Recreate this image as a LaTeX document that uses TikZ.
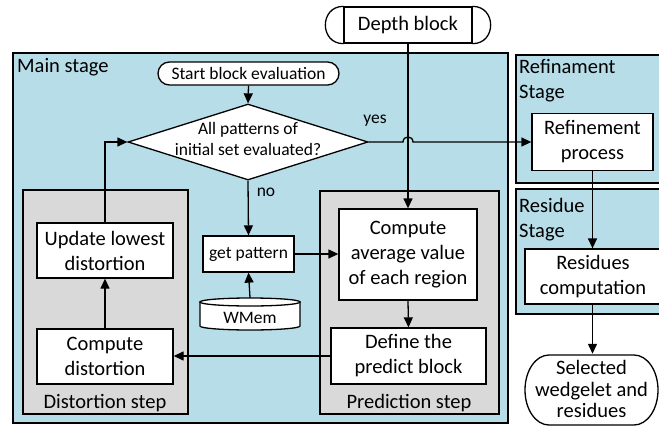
\documentclass[tikz,border=0pt]{standalone}
\usepackage{fontspec}
\setmainfont{Carlito}
\usetikzlibrary{arrows.meta,shapes.geometric}
\definecolor{stageblue}{RGB}{183,221,232}
\definecolor{stepgray}{RGB}{217,217,217}
\tikzset{
  bigtxt/.style={font=\fontsize{20.5}{25}\selectfont},
  smalltxt/.style={font=\fontsize{17.5}{21.5}\selectfont},
  stagebox/.style={draw, line width=1.5pt, fill=stageblue, inner sep=0pt},
  stepbox/.style={draw, line width=1.3pt, fill=stepgray, inner sep=0pt},
  procbox/.style={draw, line width=1.3pt, fill=white, inner sep=0pt, align=center, bigtxt},
  link/.style={line width=1.3pt, -{Triangle[length=10pt,width=9pt]}},
  plain/.style={line width=1.3pt},
  whiteshape/.style={line width=1.3pt, draw=black, fill=white},
}
\begin{document}
\begin{tikzpicture}[x=1pt,y=-1pt]
\useasboundingbox (0,0) rectangle (659,426);

% stage backgrounds
\node[stagebox, minimum width=495, minimum height=370] (main) at (260.5,238) {};
\node[stagebox, minimum width=150, minimum height=128] (refstage) at (591,119) {};
\node[stagebox, minimum width=150, minimum height=125] (resstage) at (591,251.5) {};
\node[bigtxt, anchor=west, inner sep=0pt] (mainlbl) at (17,67) {Main stage};
\node[bigtxt, anchor=north west, inner sep=0pt, align=left] (reflbl) at (519,59) {Refinament\\Stage};
\node[bigtxt, anchor=north west, inner sep=0pt, align=left] (reslbl) at (519,198) {Residue\\Stage};

% step groups
\node[stepbox, minimum width=165, minimum height=224] (diststep) at (105.5,302) {};
\node[stepbox, minimum width=179, minimum height=223] (predstep) at (409.5,302.5) {};
\node[bigtxt, inner sep=0pt] (distlbl) at (105,403) {Distortion step};
\node[bigtxt, inner sep=0pt] (predlbl) at (409,403) {Prediction step};

% terminals
\node[bigtxt, draw, plain, fill=white, minimum width=128, minimum height=36, inner sep=0pt] (depth) at (408,25) {Depth block};
\path[whiteshape] (depth.north west) .. controls +(-24,0) and +(-24,0) .. (depth.south west);
\path[whiteshape] (depth.north east) .. controls +(24,0) and +(24,0) .. (depth.south east);

\node[smalltxt, draw, plain, fill=white, rounded corners=11.5pt, minimum width=181, minimum height=23, inner sep=0pt] (start) at (248.5,73.5) {Start block evaluation};

% decision
\node[diamond, draw, plain, fill=white, minimum width=240, minimum height=76, inner sep=0pt] (dec) at (248,142) {};
\node[smalltxt, align=center, inner sep=0pt] (dectxt) at (248,139) {All patterns of\\initial set evaluated?};

% process boxes
\node[procbox, minimum width=136, minimum height=55] (update) at (105,250.5) {Update lowest\\distortion};
\node[procbox, minimum width=136, minimum height=55] (compdist) at (105,356.5) {Compute\\distortion};
\node[procbox, smalltxt, minimum width=91, minimum height=36] (getpat) at (248.5,254) {get pattern};
\node[procbox, minimum width=138, minimum height=91] (compavg) at (408,254.5) {Compute\\average value\\of each region};
\node[procbox, minimum width=155, minimum height=56] (define) at (408.5,356) {Define the\\predict block};
\node[procbox, minimum width=121, minimum height=57] (refproc) at (592.5,142) {Refinement\\process};
\node[procbox, minimum width=136, minimum height=55] (rescomp) at (593,276.5) {Residues\\computation};

% pattern memory
\path[whiteshape] (200,302) -- (200,326) .. controls (200,328.2) and (222.4,330) .. (250,330)
  .. controls (277.6,330) and (300,328.2) .. (300,326) -- (300,302) -- cycle;
\path[whiteshape] (250,302) ellipse [x radius=50, y radius=4];
\node[smalltxt, minimum width=100, minimum height=40, inner sep=0pt] (wmem) at (250,318) {WMem};

% output terminal
\path[whiteshape] (549,355) -- (634,355) .. controls (647.3,355) and (658,370.7) .. (658,390)
  .. controls (658,409.3) and (647.3,425) .. (634,425) -- (549,425)
  .. controls (535.7,425) and (525,409.3) .. (525,390)
  .. controls (525,370.7) and (535.7,355) .. (549,355) -- cycle;
\node[font=\fontsize{20.5}{21.5}\selectfont, align=center, inner sep=0pt, minimum width=133, minimum height=70] (sel) at (591.5,389) {Selected\\wedgelet and\\residues};

% connectors
\draw[link] (depth.south) -- (compavg.north);
\draw[link] (start.south) -- (dec.north);
\draw[link] (dec.east) -- ([xshift=-5pt]depth.south |- dec.east)
  .. controls +(0,-6.7) and +(0,-6.7) .. ([xshift=5pt]depth.south |- dec.east) -- (refproc.west);
\draw[link] (dec.south) -- (getpat.north);
\draw[link] (wmem.north) -- (getpat.south);
\draw[link] (getpat.east) -- (getpat.east -| compavg.west);
\draw[link] (compavg.south) -- (define.north);
\draw[link] (define.west) -- (define.west -| compdist.east);
\draw[link] (compdist.north) -- (update.south);
\draw[link] (update.north) |- (dec.west);
\draw[link] (refproc.south) -- (refproc.south |- rescomp.north);
\draw[link] (refproc.south |- rescomp.south) -- (refproc.south |- sel.north);

% branch labels
\node[smalltxt, inner sep=0pt] (yeslbl) at (375,121) {yes};
\node[smalltxt, inner sep=0pt] (nolbl) at (266,192) {no};
\end{tikzpicture}
\end{document}
